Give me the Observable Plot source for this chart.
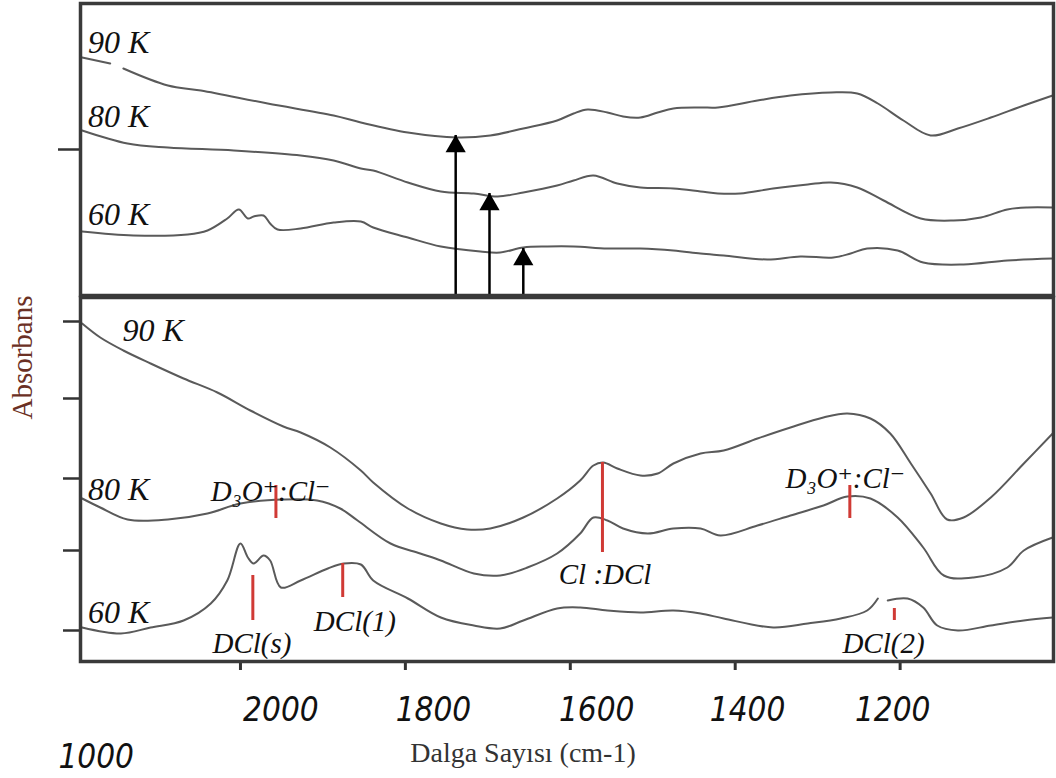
<!DOCTYPE html>
<html><head><meta charset="utf-8">
<script src="https://cdn.jsdelivr.net/npm/d3@7"></script>
<script src="https://cdn.jsdelivr.net/npm/@observablehq/plot@0.6"></script>
<style>
body{margin:0;background:#fff;}
#wrap{position:relative;width:1056px;height:778px;overflow:hidden;background:#fff;}
#top,#bottom{position:absolute;left:0;}
#top{top:0}
#bottom{top:290px}
</style></head><body>
<div id="wrap"><div id="bottom"></div><div id="top"></div></div>
<script>
// ---- axes ----
const xDomain = [2194, 1014];
const xTicks = [2000, 1800, 1600, 1400, 1200];
const xTickLabels = ["2000", "1800", "1600", "1400", "1200"];
const xTickLabelAt = [1951, 1766, 1568, 1385, 1209];
const strayLabel = ["1000"];
const strayLabelAt = [2175];
const topYTicks = [1.46];
const bottomYTicks = [0.31, 1.11, 1.83, 2.63, 3.40];

// ---- top panel spectra [wavenumber, absorbance] ----
const top90K = [[2192,2.38],[2158,2.32],[2150,NaN],[2142,2.27],[2088,2.10],[2048,2.05],[1967,1.92],[1887,1.80],[1854,1.73],[1797,1.63],[1737,1.58],[1697,1.60],[1657,1.67],[1616,1.75],[1596,1.82],[1579,1.86],[1555,1.83],[1536,1.79],[1515,1.78],[1494,1.83],[1475,1.87],[1442,1.88],[1421,1.88],[1373,1.95],[1333,2.00],[1284,2.03],[1252,2.02],[1227,1.92],[1196,1.75],[1163,1.60],[1130,1.67],[1090,1.78],[1050,1.90],[1015,2.00]];
const top80K = [[2192,1.65],[2137,1.52],[2088,1.48],[2008,1.45],[1927,1.40],[1887,1.35],[1854,1.27],[1839,1.25],[1797,1.13],[1757,1.04],[1717,1.02],[1688,0.99],[1657,1.03],[1616,1.10],[1596,1.15],[1572,1.20],[1543,1.12],[1515,1.08],[1475,1.07],[1442,1.04],[1421,1.02],[1394,1.02],[1354,1.07],[1312,1.11],[1284,1.13],[1252,1.08],[1220,0.95],[1175,0.77],[1135,0.75],[1102,0.78],[1070,0.86],[1046,0.88],[1015,0.88]];
const top60K = [[2192,0.64],[2130,0.60],[2064,0.61],[2040,0.65],[2016,0.77],[2002,0.86],[1991,0.77],[1984,0.79],[1972,0.80],[1964,0.72],[1955,0.66],[1927,0.67],[1887,0.73],[1854,0.74],[1839,0.68],[1797,0.58],[1757,0.49],[1709,0.44],[1685,0.43],[1657,0.48],[1628,0.49],[1596,0.49],[1555,0.47],[1515,0.47],[1475,0.45],[1442,0.42],[1414,0.40],[1361,0.36],[1321,0.39],[1281,0.38],[1260,0.42],[1240,0.47],[1203,0.45],[1172,0.33],[1123,0.31],[1070,0.35],[1015,0.37]];

// ---- bottom panel spectra ----
const bot90K = [[2192,3.38],[2170,3.24],[2142,3.11],[2109,2.98],[2069,2.83],[2028,2.69],[1988,2.51],[1948,2.35],[1927,2.29],[1891,2.14],[1854,1.91],[1839,1.79],[1797,1.53],[1757,1.38],[1725,1.32],[1697,1.33],[1657,1.44],[1616,1.63],[1588,1.81],[1572,1.96],[1560,1.99],[1543,1.93],[1515,1.86],[1494,1.88],[1475,1.98],[1442,2.08],[1414,2.11],[1373,2.23],[1333,2.34],[1293,2.44],[1264,2.48],[1236,2.43],[1212,2.28],[1187,1.98],[1163,1.68],[1143,1.42],[1123,1.44],[1090,1.64],[1050,1.98],[1015,2.28]];
const bot80K = [[2192,1.63],[2170,1.54],[2137,1.42],[2088,1.42],[2040,1.48],[2000,1.58],[1948,1.62],[1907,1.61],[1879,1.53],[1858,1.41],[1818,1.18],[1782,1.08],[1757,1.01],[1717,0.88],[1685,0.86],[1652,0.94],[1616,1.08],[1588,1.28],[1572,1.44],[1555,1.41],[1536,1.33],[1506,1.28],[1475,1.33],[1442,1.33],[1418,1.26],[1373,1.36],[1333,1.46],[1293,1.56],[1264,1.65],[1236,1.63],[1203,1.44],[1172,1.14],[1147,0.86],[1111,0.84],[1070,0.94],[1050,1.11],[1015,1.24]];
const bot60K = [[2192,0.34],[2145,0.28],[2109,0.34],[2069,0.41],[2036,0.58],[2016,0.81],[2000,1.18],[1991,1.04],[1984,0.98],[1972,1.06],[1964,1.01],[1951,0.74],[1927,0.81],[1894,0.93],[1875,0.98],[1854,0.97],[1839,0.81],[1797,0.63],[1757,0.44],[1717,0.36],[1685,0.33],[1657,0.41],[1616,0.53],[1588,0.54],[1555,0.51],[1515,0.49],[1475,0.51],[1442,0.48],[1414,0.43],[1354,0.34],[1312,0.38],[1272,0.43],[1240,0.51],[1227,0.63],[1221,NaN],[1215,0.61],[1191,0.63],[1172,0.54],[1155,0.36],[1130,0.31],[1090,0.36],[1050,0.41],[1015,0.44]];

// ---- annotations ----
const tempLabels = ["90 K", "80 K", "60 K"];
const topTempWn = [2185, 2185, 2185];
const topTempA = [2.53, 1.79, 0.81];
const botTempWn = [2143, 2185, 2185];
const botTempA = [3.31, 1.72, 0.49];

const arrowWn = [1739, 1698, 1657];
const arrowTip = [1.60, 1.02, 0.47];

const peakWn = [1957, 1985, 1876, 1561, 1261, 1207];
const peakLow = [1.43, 0.41, 0.64, 1.09, 1.43, 0.41];
const peakHigh = [1.76, 0.86, 0.98, 1.99, 1.76, 0.53];

const peakLabels = ["D\u2083O\u207A:Cl\u207B", "DCl(s)", "DCl(1)", "Cl :DCl", "D\u2083O\u207A:Cl\u207B", "DCl(2)"];
const peakLabelWn = [2036, 2034, 1911, 1614, 1339, 1270];
const peakLabelA = [1.70, 0.18, 0.40, 0.87, 1.83, 0.18];

// ---- build ----
const rows = (pairs) => pairs.map(([wn, a]) => ({wn, a}));
const scriptFont = "'Liberation Serif', 'DejaVu Serif', serif";
const tickFont = "'Liberation Sans Narrow', 'DejaVu Sans Condensed', 'Liberation Sans', sans-serif";
const lineStyle = {x: "wn", y: "a", stroke: "#5a5a5a", strokeWidth: 2, curve: "catmull-rom"};
const frameStyle = {stroke: "#3a3a3a", strokeWidth: 3.5};

const arrows = arrowWn.map((wn, i) => ({wn, base: 0, tip: arrowTip[i]}));
const topTemps = tempLabels.map((t, i) => ({t, wn: topTempWn[i], a: topTempA[i]}));
const botTemps = tempLabels.map((t, i) => ({t, wn: botTempWn[i], a: botTempA[i]}));
const peaks = peakWn.map((wn, i) => ({wn, lo: peakLow[i], hi: peakHigh[i]}));
const peakText = peakLabels.map((t, i) => ({t, wn: peakLabelWn[i], a: peakLabelA[i]}));
const xLabels = xTickLabels.map((t, i) => ({t, wn: xTickLabelAt[i]}));
const stray = strayLabel.map((t, i) => ({t, wn: strayLabelAt[i]}));

const topPlot = Plot.plot({
  width: 1056, height: 297,
  marginLeft: 80, marginRight: 3, marginTop: 3, marginBottom: 2,
  style: {background: "transparent", overflow: "visible"},
  x: {domain: xDomain, axis: null},
  y: {domain: [0, 2.92]},
  marks: [
    Plot.axisY(topYTicks, {anchor: "left", tickSize: 22, tickFormat: () => "", stroke: "#333", strokeWidth: 2.5, label: null}),
    Plot.line(rows(top90K), lineStyle),
    Plot.line(rows(top80K), lineStyle),
    Plot.line(rows(top60K), lineStyle),
    Plot.ruleX(arrows, {x: "wn", y1: "base", y2: "tip", stroke: "#000", strokeWidth: 2.5}),
    Plot.dot(arrows, {x: "wn", y: "tip", symbol: "triangle", r: 7.5, fill: "#000", stroke: "none", dy: 11}),
    Plot.text(topTemps, {x: "wn", y: "a", text: "t", textAnchor: "start", fontFamily: scriptFont, fontStyle: "italic", fontSize: 32, fill: "#111"}),
    Plot.frame(frameStyle)
  ]
});

const bottomPlot = Plot.plot({
  width: 1056, height: 488,
  marginLeft: 80, marginRight: 3, marginTop: 7, marginBottom: 117,
  style: {background: "transparent", overflow: "visible"},
  x: {domain: xDomain},
  y: {domain: [0, 3.64]},
  marks: [
    Plot.axisY(bottomYTicks, {anchor: "left", tickSize: 17, tickFormat: () => "", stroke: "#333", strokeWidth: 2.5, label: null}),
    Plot.axisX(xTicks, {anchor: "bottom", tickSize: 9, tickFormat: () => "", stroke: "#333", strokeWidth: 3, label: null}),
    Plot.line(rows(bot90K), lineStyle),
    Plot.line(rows(bot80K), lineStyle),
    Plot.line(rows(bot60K), lineStyle),
    Plot.ruleX(peaks, {x: "wn", y1: "lo", y2: "hi", stroke: "#d03a35", strokeWidth: 3}),
    Plot.text(botTemps, {x: "wn", y: "a", text: "t", textAnchor: "start", fontFamily: scriptFont, fontStyle: "italic", fontSize: 32, fill: "#111"}),
    Plot.text(peakText, {x: "wn", y: "a", text: "t", textAnchor: "start", fontFamily: scriptFont, fontStyle: "italic", fontSize: 29, fill: "#111"}),
    Plot.text(xLabels, {x: "wn", text: "t", frameAnchor: "bottom", lineAnchor: "middle", dy: 49, fontFamily: tickFont, fontStyle: "italic", fontSize: 33, fill: "#111"}),
    Plot.text(stray, {x: "wn", text: "t", frameAnchor: "bottom", lineAnchor: "middle", dy: 96, fontFamily: tickFont, fontStyle: "italic", fontSize: 33, fill: "#111"}),
    Plot.text(["Dalga Sayısı (cm-1)"], {frameAnchor: "bottom", textAnchor: "middle", lineAnchor: "middle", dx: -44, dy: 92, fontFamily: "'Liberation Serif', serif", fontSize: 28, fill: "#333"}),
    Plot.text(["Absorbans"], {frameAnchor: "top-left", textAnchor: "middle", lineAnchor: "middle", dx: -58, dy: 60, rotate: -90, fontFamily: "'Liberation Serif', serif", fontSize: 29, fill: "#6b3024"}),
    Plot.frame(frameStyle)
  ]
});

document.getElementById("top").appendChild(topPlot);
document.getElementById("bottom").appendChild(bottomPlot);
</script>
</body></html>
